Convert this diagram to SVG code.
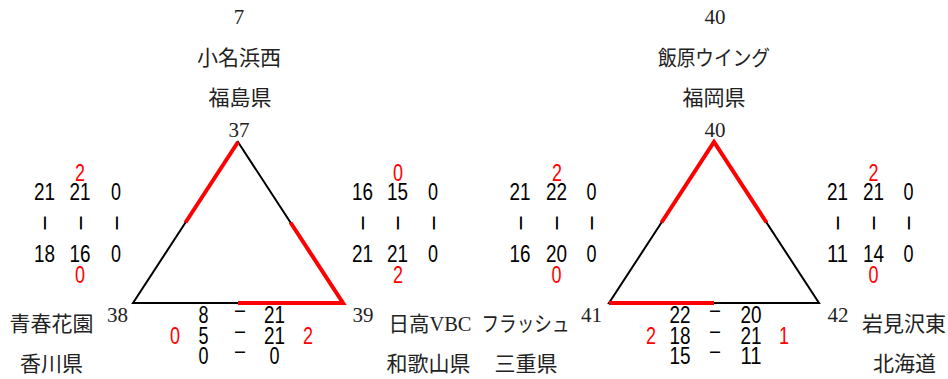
<svg xmlns="http://www.w3.org/2000/svg" width="948" height="379" viewBox="0 0 948 379">
<style>
.bg{fill:#fff}
.lbl{font-family:"Liberation Serif","Noto Sans CJK JP",serif;font-size:21px;fill:#222;text-anchor:middle}
.sc{font-family:"Liberation Sans",Arial,sans-serif;font-size:23.5px;fill:#000;text-anchor:middle}
.vb{font-family:"Liberation Sans",Arial,sans-serif;font-size:27px;fill:#000;text-anchor:middle}
.red{fill:#f00}
.edge{stroke:#000;stroke-width:2;fill:none;stroke-linejoin:miter}
.win{stroke:#f00;stroke-width:4;fill:none;stroke-linejoin:miter}
</style>
<rect class="bg" x="0" y="0" width="948" height="379"/>

<g id="connectors">
  <polygon class="edge" points="238,142 133,303 343,303"/>
  <line class="win" x1="238" y1="142" x2="185.5" y2="222.5"/>
  <polyline class="win" points="290.5,222.5 343,303 238,303"/>
  <polygon class="edge" points="714,142 609,303 819,303"/>
  <polyline class="win" points="661.5,222.5 714,142 766.5,222.5"/>
  <line class="win" x1="609" y1="303" x2="714" y2="303"/>
</g>

<!-- Left panel nodes -->
<g id="node-37">
  <text class="lbl" x="239" y="24">7</text>
  <text class="lbl" x="239" y="65">小名浜西</text>
  <text class="lbl" x="240" y="105">福島県</text>
  <text class="lbl" x="239" y="137">37</text>
</g>
<g id="node-38">
  <text class="lbl" x="117.5" y="322">38</text>
  <text class="lbl" x="51.5" y="331">青春花園</text>
  <text class="lbl" x="51.5" y="371">香川県</text>
</g>
<g id="node-39">
  <text class="lbl" x="363" y="322">39</text>
  <text class="lbl" x="430" y="331" textLength="83" lengthAdjust="spacingAndGlyphs">日高VBC</text>
  <text class="lbl" x="428.5" y="371">和歌山県</text>
</g>

<!-- Right panel nodes -->
<g id="node-40">
  <text class="lbl" x="715" y="24">40</text>
  <text class="lbl" x="714" y="65" textLength="112" lengthAdjust="spacingAndGlyphs">飯原ウイング</text>
  <text class="lbl" x="714" y="105">福岡県</text>
  <text class="lbl" x="715" y="137">40</text>
</g>
<g id="node-41">
  <text class="lbl" x="591.5" y="322">41</text>
  <text class="lbl" x="525.5" y="331" textLength="88" lengthAdjust="spacingAndGlyphs">フラッシュ</text>
  <text class="lbl" x="526" y="371">三重県</text>
</g>
<g id="node-42">
  <text class="lbl" x="838" y="322">42</text>
  <text class="lbl" x="904" y="331">岩見沢東</text>
  <text class="lbl" x="904.5" y="371">北海道</text>
</g>

<!-- Scores: 37 vs 38 -->
<g id="score-37-38">
  <text class="sc red" x="80" y="181" textLength="10" lengthAdjust="spacingAndGlyphs">2</text>
  <text class="sc" x="44.5" y="200" textLength="21" lengthAdjust="spacingAndGlyphs">21</text>
  <text class="sc" x="80" y="200" textLength="21" lengthAdjust="spacingAndGlyphs">21</text>
  <text class="sc" x="116" y="200" textLength="10" lengthAdjust="spacingAndGlyphs">0</text>
  <text class="vb" x="45" y="230" textLength="13" lengthAdjust="spacingAndGlyphs" transform="rotate(90 45 223)">–</text>
  <text class="vb" x="80.5" y="230" textLength="13" lengthAdjust="spacingAndGlyphs" transform="rotate(90 80.5 223)">–</text>
  <text class="vb" x="116.5" y="230" textLength="13" lengthAdjust="spacingAndGlyphs" transform="rotate(90 116.5 223)">–</text>
  <text class="sc" x="44.5" y="262" textLength="21" lengthAdjust="spacingAndGlyphs">18</text>
  <text class="sc" x="80" y="262" textLength="21" lengthAdjust="spacingAndGlyphs">16</text>
  <text class="sc" x="116" y="262" textLength="10" lengthAdjust="spacingAndGlyphs">0</text>
  <text class="sc red" x="80" y="283" textLength="10" lengthAdjust="spacingAndGlyphs">0</text>
</g>

<!-- Scores: 37 vs 39 -->
<g id="score-37-39">
  <text class="sc red" x="398" y="181" textLength="10" lengthAdjust="spacingAndGlyphs">0</text>
  <text class="sc" x="362.5" y="200" textLength="21" lengthAdjust="spacingAndGlyphs">16</text>
  <text class="sc" x="397.5" y="200" textLength="21" lengthAdjust="spacingAndGlyphs">15</text>
  <text class="sc" x="433" y="200" textLength="10" lengthAdjust="spacingAndGlyphs">0</text>
  <text class="vb" x="363" y="230" textLength="13" lengthAdjust="spacingAndGlyphs" transform="rotate(90 363 223)">–</text>
  <text class="vb" x="398" y="230" textLength="13" lengthAdjust="spacingAndGlyphs" transform="rotate(90 398 223)">–</text>
  <text class="vb" x="433.5" y="230" textLength="13" lengthAdjust="spacingAndGlyphs" transform="rotate(90 433.5 223)">–</text>
  <text class="sc" x="362.5" y="262" textLength="21" lengthAdjust="spacingAndGlyphs">21</text>
  <text class="sc" x="397.5" y="262" textLength="21" lengthAdjust="spacingAndGlyphs">21</text>
  <text class="sc" x="433" y="262" textLength="10" lengthAdjust="spacingAndGlyphs">0</text>
  <text class="sc red" x="398" y="283" textLength="10" lengthAdjust="spacingAndGlyphs">2</text>
</g>

<!-- Scores: 38 vs 39 -->
<g id="score-38-39">
  <text class="sc" x="203.5" y="323" textLength="10" lengthAdjust="spacingAndGlyphs">8</text>
  <text class="sc" x="240" y="317" textLength="10" lengthAdjust="spacingAndGlyphs">–</text>
  <text class="sc" x="274.5" y="323" textLength="21" lengthAdjust="spacingAndGlyphs">21</text>
  <text class="sc red" x="175" y="344" textLength="10" lengthAdjust="spacingAndGlyphs">0</text>
  <text class="sc" x="203.5" y="344" textLength="10" lengthAdjust="spacingAndGlyphs">5</text>
  <text class="sc" x="240" y="338" textLength="10" lengthAdjust="spacingAndGlyphs">–</text>
  <text class="sc" x="274.5" y="344" textLength="21" lengthAdjust="spacingAndGlyphs">21</text>
  <text class="sc red" x="308" y="344" textLength="10" lengthAdjust="spacingAndGlyphs">2</text>
  <text class="sc" x="203.5" y="364" textLength="10" lengthAdjust="spacingAndGlyphs">0</text>
  <text class="sc" x="240" y="358" textLength="10" lengthAdjust="spacingAndGlyphs">–</text>
  <text class="sc" x="274.5" y="364" textLength="10" lengthAdjust="spacingAndGlyphs">0</text>
</g>

<!-- Scores: 40 vs 41 -->
<g id="score-40-41">
  <text class="sc red" x="557" y="181" textLength="10" lengthAdjust="spacingAndGlyphs">2</text>
  <text class="sc" x="520" y="200" textLength="21" lengthAdjust="spacingAndGlyphs">21</text>
  <text class="sc" x="556.5" y="200" textLength="21" lengthAdjust="spacingAndGlyphs">22</text>
  <text class="sc" x="591.5" y="200" textLength="10" lengthAdjust="spacingAndGlyphs">0</text>
  <text class="vb" x="520.5" y="230" textLength="13" lengthAdjust="spacingAndGlyphs" transform="rotate(90 520.5 223)">–</text>
  <text class="vb" x="556.5" y="230" textLength="13" lengthAdjust="spacingAndGlyphs" transform="rotate(90 556.5 223)">–</text>
  <text class="vb" x="592" y="230" textLength="13" lengthAdjust="spacingAndGlyphs" transform="rotate(90 592 223)">–</text>
  <text class="sc" x="520" y="262" textLength="21" lengthAdjust="spacingAndGlyphs">16</text>
  <text class="sc" x="556.5" y="262" textLength="21" lengthAdjust="spacingAndGlyphs">20</text>
  <text class="sc" x="591.5" y="262" textLength="10" lengthAdjust="spacingAndGlyphs">0</text>
  <text class="sc red" x="556.5" y="283" textLength="10" lengthAdjust="spacingAndGlyphs">0</text>
</g>

<!-- Scores: 40 vs 42 -->
<g id="score-40-42">
  <text class="sc red" x="873.5" y="181" textLength="10" lengthAdjust="spacingAndGlyphs">2</text>
  <text class="sc" x="837.5" y="200" textLength="21" lengthAdjust="spacingAndGlyphs">21</text>
  <text class="sc" x="873.5" y="200" textLength="21" lengthAdjust="spacingAndGlyphs">21</text>
  <text class="sc" x="908.5" y="200" textLength="10" lengthAdjust="spacingAndGlyphs">0</text>
  <text class="vb" x="838" y="230" textLength="13" lengthAdjust="spacingAndGlyphs" transform="rotate(90 838 223)">–</text>
  <text class="vb" x="873.5" y="230" textLength="13" lengthAdjust="spacingAndGlyphs" transform="rotate(90 873.5 223)">–</text>
  <text class="vb" x="909" y="230" textLength="13" lengthAdjust="spacingAndGlyphs" transform="rotate(90 909 223)">–</text>
  <text class="sc" x="837.5" y="262" textLength="21" lengthAdjust="spacingAndGlyphs">11</text>
  <text class="sc" x="873.5" y="262" textLength="21" lengthAdjust="spacingAndGlyphs">14</text>
  <text class="sc" x="908.5" y="262" textLength="10" lengthAdjust="spacingAndGlyphs">0</text>
  <text class="sc red" x="873.5" y="283" textLength="10" lengthAdjust="spacingAndGlyphs">0</text>
</g>

<!-- Scores: 41 vs 42 -->
<g id="score-41-42">
  <text class="sc" x="680" y="323" textLength="21" lengthAdjust="spacingAndGlyphs">22</text>
  <text class="sc" x="715" y="317" textLength="10" lengthAdjust="spacingAndGlyphs">–</text>
  <text class="sc" x="751" y="323" textLength="21" lengthAdjust="spacingAndGlyphs">20</text>
  <text class="sc red" x="651" y="344" textLength="10" lengthAdjust="spacingAndGlyphs">2</text>
  <text class="sc" x="680" y="344" textLength="21" lengthAdjust="spacingAndGlyphs">18</text>
  <text class="sc" x="715" y="338" textLength="10" lengthAdjust="spacingAndGlyphs">–</text>
  <text class="sc" x="751" y="344" textLength="21" lengthAdjust="spacingAndGlyphs">21</text>
  <text class="sc red" x="784" y="344" textLength="10" lengthAdjust="spacingAndGlyphs">1</text>
  <text class="sc" x="680" y="364" textLength="21" lengthAdjust="spacingAndGlyphs">15</text>
  <text class="sc" x="715" y="358" textLength="10" lengthAdjust="spacingAndGlyphs">–</text>
  <text class="sc" x="751" y="364" textLength="21" lengthAdjust="spacingAndGlyphs">11</text>
</g>
</svg>
